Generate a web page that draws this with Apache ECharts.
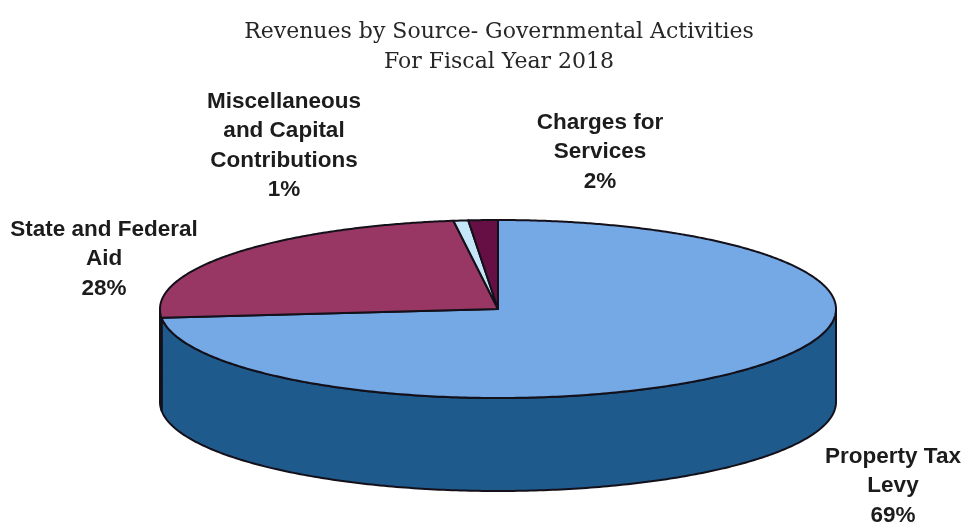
<!DOCTYPE html>
<html>
<head>
<meta charset="utf-8">
<style>html,body{margin:0;padding:0;background:#fff}#chart{width:964px;height:524px}</style>
<script src="https://cdn.jsdelivr.net/npm/echarts@6/dist/echarts.min.js"></script>
</head>
<body>
<div id="chart"></div>
<script>
// Revenue shares, clockwise from twelve o'clock
const sources = ['Property Tax\nLevy', 'State and Federal\nAid', 'Miscellaneous\nand Capital\nContributions', 'Charges for\nServices'];
const shares = [69, 28, 1, 2];

// Fill colours per slice: top face, then side wall
const topColors = ['#74a9e6', '#983763', '#c4e6f8', '#650f45'];
const wallColors = ['#1f5a8c', '#3a1a2c', '#8aa8b8', '#470a30'];

// Centre of each slice's label block
const labelCentres = [[893, 486], [104, 259], [284, 146], [600, 152]];

// Disc geometry of the drawn pie
const disc = { cx: 498, cy: 309, rx: 338, ry: 89, depth: 93 };
// Far side of the tilted disc looks compressed, near side stretched
const foreshorten = 0.3;

const total = shares.reduce((a, b) => a + b, 0);
const turn = Math.PI * 2;

function shownAngle(theta) {
  return theta - foreshorten * Math.sin(theta);
}
function rimPoint(theta, drop) {
  const a = shownAngle(theta);
  return [disc.cx + disc.rx * Math.sin(a), disc.cy - disc.ry * Math.cos(a) + (drop || 0)];
}
function sweep(from, to, drop) {
  const pts = [];
  const steps = Math.max(2, Math.ceil((to - from) / 0.01));
  for (let i = 0; i <= steps; i++) pts.push(rimPoint(from + (to - from) * i / steps, drop));
  return pts;
}
function startOf(index) {
  let sum = 0;
  for (let i = 0; i < index; i++) sum += shares[i];
  return sum / total * turn;
}
function pathOf(points, close) {
  return points.map((p, i) => (i ? 'L' : 'M') + p[0].toFixed(2) + ' ' + p[1].toFixed(2)).join(' ') + (close ? ' Z' : '');
}
const outline = { stroke: '#14101a', lineWidth: 2, lineJoin: 'round' };

// Rim angles at which the displayed angle reaches the left and right extremes
function solveShown(target) {
  let lo = 0, hi = turn;
  for (let i = 0; i < 50; i++) {
    const mid = (lo + hi) / 2;
    if (shownAngle(mid) < target) lo = mid; else hi = mid;
  }
  return lo;
}
const firstFront = solveShown(Math.PI / 2);
const lastFront = solveShown(Math.PI * 3 / 2);

// Side walls: the part of each slice's rim that faces the viewer
function renderWall(params, api) {
  const from = startOf(params.dataIndex);
  const to = from + api.value(0) / total * turn;
  const visibleFrom = Math.max(from, firstFront);
  const visibleTo = Math.min(to, lastFront);
  if (visibleTo <= visibleFrom) return { type: 'group', children: [] };
  const upper = sweep(visibleFrom, visibleTo, 0);
  const lower = sweep(visibleFrom, visibleTo, disc.depth).reverse();
  return {
    type: 'path',
    shape: { pathData: pathOf(upper.concat(lower), true) },
    style: Object.assign({ fill: wallColors[params.dataIndex] }, outline)
  };
}

// Top faces of the slices
function renderTop(params, api) {
  const from = startOf(params.dataIndex);
  const to = from + api.value(0) / total * turn;
  const pts = [[disc.cx, disc.cy]].concat(sweep(from, to, 0));
  return {
    type: 'path',
    shape: { pathData: pathOf(pts, true) },
    style: Object.assign({ fill: topColors[params.dataIndex] }, outline)
  };
}

// Category label with its percentage underneath
function renderLabel(params, api) {
  const c = labelCentres[params.dataIndex];
  return {
    type: 'text',
    x: c[0], y: c[1],
    style: {
      text: sources[params.dataIndex] + '\n' + api.value(0) + '%',
      align: 'center', verticalAlign: 'middle',
      font: 'bold 22.5px "Liberation Sans", Arial, sans-serif',
      lineHeight: 29.5, fill: '#1c1c1c'
    }
  };
}

const seriesData = shares.map((v, i) => ({ name: sources[i], value: [v] }));

const chart = echarts.init(document.getElementById('chart'), null, { renderer: 'canvas' });
chart.setOption({
  animation: false,
  backgroundColor: '#ffffff',
  title: {
    text: 'Revenues by Source- Governmental Activities\nFor Fiscal Year 2018',
    left: 494, top: 12, textAlign: 'center',
    textStyle: { fontFamily: '"DejaVu Serif", serif', fontWeight: 'normal', fontSize: 22, lineHeight: 30, color: '#262626' }
  },
  series: [
    { type: 'custom', coordinateSystem: 'none', data: seriesData, renderItem: renderWall, z: 1, silent: true },
    { type: 'custom', coordinateSystem: 'none', data: seriesData, renderItem: renderTop, z: 2, silent: true },
    { type: 'custom', coordinateSystem: 'none', data: seriesData, renderItem: renderLabel, z: 3, silent: true }
  ]
});
</script>
</body>
</html>
